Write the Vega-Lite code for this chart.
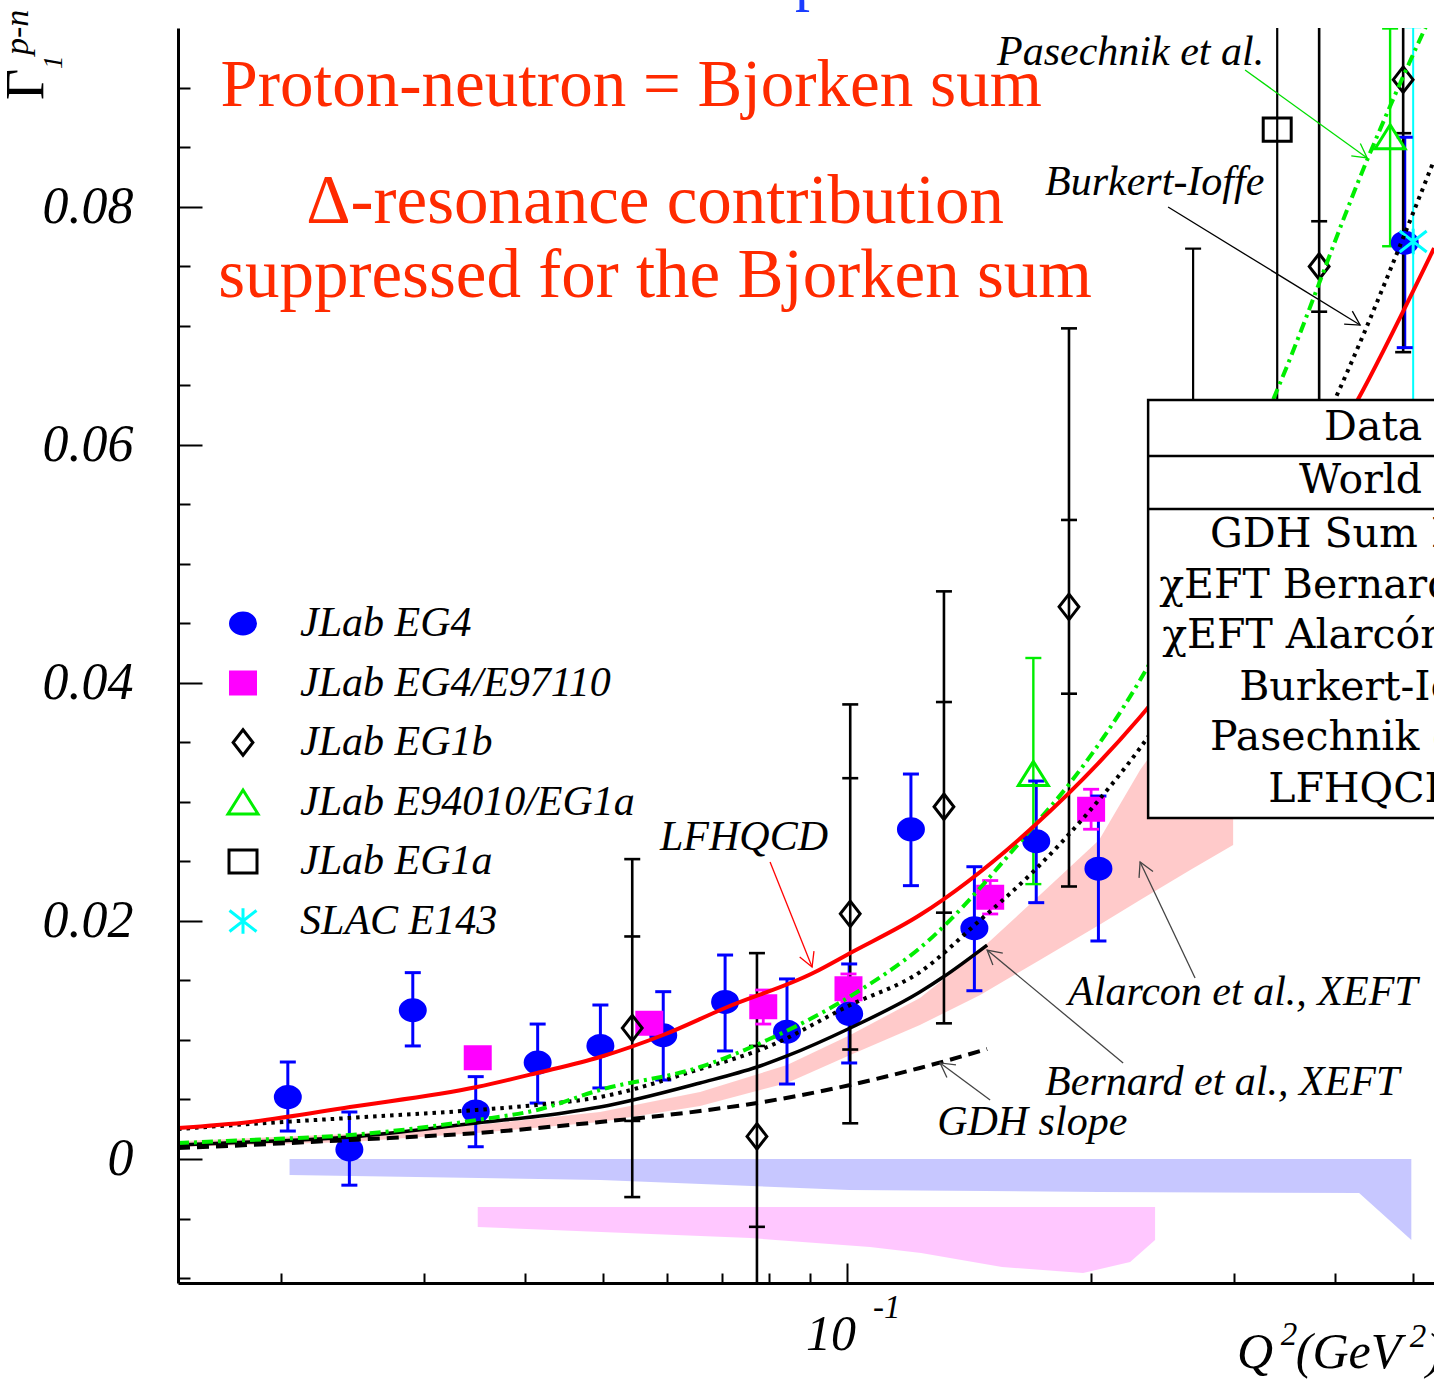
{
  "$schema": "https://vega.github.io/schema/vega-lite/v6.json",
  "width": 1256,
  "height": 1255,
  "autosize": {"type": "none"},
  "padding": {"left": 178, "top": 28, "right": 0, "bottom": 100},
  "background": "white",
  "config": {"view": {"stroke": null}},
  "datasets": {
    "points": [
      {"set": "JLab EG4", "q": 0.0204, "g": 0.0052, "lo": 0.00235, "hi": 0.00815},
      {"set": "JLab EG4", "q": 0.0243, "g": 0.0008, "lo": -0.0022, "hi": 0.00395},
      {"set": "JLab EG4", "q": 0.0291, "g": 0.0125, "lo": 0.0095, "hi": 0.01566},
      {"set": "JLab EG4", "q": 0.0348, "g": 0.0040, "lo": 0.00103, "hi": 0.00692},
      {"set": "JLab EG4", "q": 0.0415, "g": 0.0081, "lo": 0.0047, "hi": 0.01134},
      {"set": "JLab EG4", "q": 0.0496, "g": 0.0095, "lo": 0.00597, "hi": 0.01294},
      {"set": "JLab EG4", "q": 0.0593, "g": 0.0104, "lo": 0.00664, "hi": 0.01406},
      {"set": "JLab EG4", "q": 0.0707, "g": 0.0132, "lo": 0.00908, "hi": 0.01714},
      {"set": "JLab EG4", "q": 0.0843, "g": 0.0107, "lo": 0.0063, "hi": 0.01513},
      {"set": "JLab EG4", "q": 0.1006, "g": 0.0122, "lo": 0.00807, "hi": 0.01639},
      {"set": "JLab EG4", "q": 0.1199, "g": 0.0277, "lo": 0.02297, "hi": 0.03235},
      {"set": "JLab EG4", "q": 0.1436, "g": 0.0194, "lo": 0.01414, "hi": 0.02456},
      {"set": "JLab EG4", "q": 0.1712, "g": 0.0267, "lo": 0.02154, "hi": 0.03176},
      {"set": "JLab EG4", "q": 0.2043, "g": 0.0244, "lo": 0.01832, "hi": 0.0305},
      {"set": "JLab EG4", "q": 0.4880, "g": 0.0770, "lo": 0.06818, "hi": 0.08586},
      {"set": "JLab EG4/E97110", "q": 0.0350, "g": 0.0085, "lo": 0.0078, "hi": 0.0092},
      {"set": "JLab EG4/E97110", "q": 0.0570, "g": 0.0114, "lo": 0.0106, "hi": 0.0122},
      {"set": "JLab EG4/E97110", "q": 0.0788, "g": 0.0128, "lo": 0.01134, "hi": 0.0142},
      {"set": "JLab EG4/E97110", "q": 0.1004, "g": 0.0143, "lo": 0.01319, "hi": 0.01555},
      {"set": "JLab EG4/E97110", "q": 0.1502, "g": 0.0220, "lo": 0.02059, "hi": 0.0234},
      {"set": "JLab EG4/E97110", "q": 0.2001, "g": 0.0294, "lo": 0.02771, "hi": 0.03107},
      {"set": "JLab EG1b", "q": 0.0543, "g": 0.0110, "lo": -0.0032, "hi": 0.0252, "slo": 0.0032, "shi": 0.0187},
      {"set": "JLab EG1b", "q": 0.0774, "g": 0.0019, "lo": -0.0137, "hi": 0.0173, "slo": -0.0057, "shi": 0.0095},
      {"set": "JLab EG1b", "q": 0.1009, "g": 0.0206, "lo": 0.0030, "hi": 0.0382, "slo": 0.0092, "shi": 0.0320},
      {"set": "JLab EG1b", "q": 0.1317, "g": 0.0296, "lo": 0.0114, "hi": 0.0477, "slo": 0.0207, "shi": 0.0384},
      {"set": "JLab EG1b", "q": 0.1879, "g": 0.0464, "lo": 0.0229, "hi": 0.0698, "slo": 0.0391, "shi": 0.0537},
      {"set": "JLab EG1b", "q": 0.3826, "g": 0.0750, "lo": 0.0430, "hi": 0.1070, "slo": 0.0712, "shi": 0.0788},
      {"set": "JLab EG1b", "q": 0.4858, "g": 0.0907, "lo": 0.0678, "hi": 0.1136, "slo": 0.0862, "shi": 0.0990},
      {"set": "JLab E94010/EG1a", "q": 0.1698, "g": 0.0324, "lo": 0.0231, "hi": 0.0421},
      {"set": "JLab E94010/EG1a", "q": 0.4681, "g": 0.0859, "lo": 0.0767, "hi": 0.0950},
      {"set": "JLab EG1a", "q": 0.2674, "g": 0.0580, "lo": 0.0395, "hi": 0.0765},
      {"set": "JLab EG1a", "q": 0.3396, "g": 0.0865, "lo": 0.0480, "hi": 0.1250},
      {"set": "SLAC E143", "q": 0.4998, "g": 0.0771, "lo": 0.0591, "hi": 0.0951}
    ],
    "curves": [
      {"model": "LFHQCD", "q": 0.01493, "g": 0.0026},
      {"model": "LFHQCD", "q": 0.01832, "g": 0.00311},
      {"model": "LFHQCD", "q": 0.02434, "g": 0.00437},
      {"model": "LFHQCD", "q": 0.03492, "g": 0.00605},
      {"model": "LFHQCD", "q": 0.04143, "g": 0.00723},
      {"model": "LFHQCD", "q": 0.04955, "g": 0.00857},
      {"model": "LFHQCD", "q": 0.05927, "g": 0.01042},
      {"model": "LFHQCD", "q": 0.07069, "g": 0.01269},
      {"model": "LFHQCD", "q": 0.09079, "g": 0.01563},
      {"model": "LFHQCD", "q": 0.1009, "g": 0.01731},
      {"model": "LFHQCD", "q": 0.123, "g": 0.0205},
      {"model": "LFHQCD", "q": 0.1696, "g": 0.0279},
      {"model": "LFHQCD", "q": 0.23, "g": 0.03714},
      {"model": "LFHQCD", "q": 0.4335, "g": 0.06462},
      {"model": "LFHQCD", "q": 0.5305, "g": 0.07655},
      {"model": "Pasechnik", "q": 0.01493, "g": 0.00134},
      {"model": "Pasechnik", "q": 0.01832, "g": 0.0016},
      {"model": "Pasechnik", "q": 0.02434, "g": 0.00202},
      {"model": "Pasechnik", "q": 0.03492, "g": 0.00328},
      {"model": "Pasechnik", "q": 0.04143, "g": 0.00412},
      {"model": "Pasechnik", "q": 0.04955, "g": 0.0058},
      {"model": "Pasechnik", "q": 0.06584, "g": 0.00773},
      {"model": "Pasechnik", "q": 0.0797, "g": 0.01},
      {"model": "Pasechnik", "q": 0.1029, "g": 0.01403},
      {"model": "Pasechnik", "q": 0.123, "g": 0.01773},
      {"model": "Pasechnik", "q": 0.1696, "g": 0.0279},
      {"model": "Pasechnik", "q": 0.1885, "g": 0.0316},
      {"model": "Pasechnik", "q": 0.23, "g": 0.04025},
      {"model": "Pasechnik", "q": 0.3424, "g": 0.06521},
      {"model": "Pasechnik", "q": 0.4385, "g": 0.08395},
      {"model": "Pasechnik", "q": 0.5139, "g": 0.09462},
      {"model": "Pasechnik", "q": 0.5303, "g": 0.0966},
      {"model": "Burkert-Ioffe", "q": 0.01493, "g": 0.00252},
      {"model": "Burkert-Ioffe", "q": 0.01832, "g": 0.00294},
      {"model": "Burkert-Ioffe", "q": 0.02434, "g": 0.00345},
      {"model": "Burkert-Ioffe", "q": 0.03492, "g": 0.00412},
      {"model": "Burkert-Ioffe", "q": 0.04143, "g": 0.00454},
      {"model": "Burkert-Ioffe", "q": 0.04955, "g": 0.00521},
      {"model": "Burkert-Ioffe", "q": 0.06584, "g": 0.00756},
      {"model": "Burkert-Ioffe", "q": 0.0797, "g": 0.00941},
      {"model": "Burkert-Ioffe", "q": 0.1009, "g": 0.01294},
      {"model": "Burkert-Ioffe", "q": 0.123, "g": 0.01571},
      {"model": "Burkert-Ioffe", "q": 0.146, "g": 0.02008},
      {"model": "Burkert-Ioffe", "q": 0.1696, "g": 0.02412},
      {"model": "Burkert-Ioffe", "q": 0.2001, "g": 0.0294},
      {"model": "Burkert-Ioffe", "q": 0.23, "g": 0.03454},
      {"model": "Burkert-Ioffe", "q": 0.4061, "g": 0.06479},
      {"model": "Burkert-Ioffe", "q": 0.5305, "g": 0.08395},
      {"model": "Bernard", "q": 0.01493, "g": 0.00118},
      {"model": "Bernard", "q": 0.01832, "g": 0.00143},
      {"model": "Bernard", "q": 0.02434, "g": 0.00185},
      {"model": "Bernard", "q": 0.03492, "g": 0.00303},
      {"model": "Bernard", "q": 0.04461, "g": 0.00387},
      {"model": "Bernard", "q": 0.04955, "g": 0.00437},
      {"model": "Bernard", "q": 0.06584, "g": 0.00639},
      {"model": "Bernard", "q": 0.07741, "g": 0.00773},
      {"model": "Bernard", "q": 0.0843, "g": 0.00866},
      {"model": "Bernard", "q": 0.1009, "g": 0.01101},
      {"model": "Bernard", "q": 0.123, "g": 0.01403},
      {"model": "Bernard", "q": 0.1314, "g": 0.01529},
      {"model": "Bernard", "q": 0.1489, "g": 0.01798},
      {"model": "GDH", "q": 0.01493, "g": 0.00092},
      {"model": "GDH", "q": 0.01832, "g": 0.00118},
      {"model": "GDH", "q": 0.02434, "g": 0.0016},
      {"model": "GDH", "q": 0.03492, "g": 0.00218},
      {"model": "GDH", "q": 0.04955, "g": 0.00311},
      {"model": "GDH", "q": 0.06584, "g": 0.00403},
      {"model": "GDH", "q": 0.07741, "g": 0.00471},
      {"model": "GDH", "q": 0.1009, "g": 0.00622},
      {"model": "GDH", "q": 0.123, "g": 0.00765},
      {"model": "GDH", "q": 0.1489, "g": 0.00924}
    ],
    "bands": [
      {"band": "EG4 sys", "q": 0.0205, "lo": -0.00134, "hi": 0},
      {"band": "EG4 sys", "q": 0.0496, "lo": -0.00176, "hi": 0},
      {"band": "EG4 sys", "q": 0.1006, "lo": -0.0026, "hi": 0},
      {"band": "EG4 sys", "q": 0.2047, "lo": -0.00277, "hi": 0},
      {"band": "EG4 sys", "q": 0.4286, "lo": -0.00286, "hi": 0},
      {"band": "EG4 sys", "q": 0.4972, "lo": -0.0068, "hi": 0},
      {"band": "EG4/E97110 sys", "q": 0.035, "lo": -0.00571, "hi": -0.00403},
      {"band": "EG4/E97110 sys", "q": 0.0759, "lo": -0.00664, "hi": -0.00403},
      {"band": "EG4/E97110 sys", "q": 0.1067, "lo": -0.0074, "hi": -0.00403},
      {"band": "EG4/E97110 sys", "q": 0.1234, "lo": -0.0079, "hi": -0.00403},
      {"band": "EG4/E97110 sys", "q": 0.1553, "lo": -0.00908, "hi": -0.00403},
      {"band": "EG4/E97110 sys", "q": 0.1956, "lo": -0.00958, "hi": -0.00403},
      {"band": "EG4/E97110 sys", "q": 0.2236, "lo": -0.00866, "hi": -0.00403},
      {"band": "EG4/E97110 sys", "q": 0.24, "lo": -0.0068, "hi": -0.00403},
      {"band": "Alarcon", "q": 0.01493, "lo": 0.0010, "hi": 0.0015},
      {"band": "Alarcon", "q": 0.02434, "lo": 0.00143, "hi": 0.0021},
      {"band": "Alarcon", "q": 0.03492, "lo": 0.00218, "hi": 0.00286},
      {"band": "Alarcon", "q": 0.04955, "lo": 0.00311, "hi": 0.00395},
      {"band": "Alarcon", "q": 0.06584, "lo": 0.00445, "hi": 0.00563},
      {"band": "Alarcon", "q": 0.0843, "lo": 0.00639, "hi": 0.0079},
      {"band": "Alarcon", "q": 0.1009, "lo": 0.00874, "hi": 0.01042},
      {"band": "Alarcon", "q": 0.123, "lo": 0.01126, "hi": 0.01353},
      {"band": "Alarcon", "q": 0.146, "lo": 0.01378, "hi": 0.01756},
      {"band": "Alarcon", "q": 0.173, "lo": 0.01672, "hi": 0.02218},
      {"band": "Alarcon", "q": 0.2047, "lo": 0.01966, "hi": 0.02681},
      {"band": "Alarcon", "q": 0.23, "lo": 0.02176, "hi": 0.03269},
      {"band": "Alarcon", "q": 0.2652, "lo": 0.02429, "hi": 0.0386},
      {"band": "Alarcon", "q": 0.2996, "lo": 0.02639, "hi": 0.045}
    ],
    "legendRows": [
      {"set": "JLab EG4", "g": 0.045},
      {"set": "JLab EG4/E97110", "g": 0.040},
      {"set": "JLab EG1b", "g": 0.035},
      {"set": "JLab E94010/EG1a", "g": 0.030},
      {"set": "JLab EG1a", "g": 0.025},
      {"set": "SLAC E143", "g": 0.020}
    ],
    "notes": [
      {"text": "LFHQCD", "q": 0.05876, "g": 0.02597},
      {"text": "Pasechnik et al.", "q": 0.15316, "g": 0.09193},
      {"text": "Burkert-Ioffe", "q": 0.17556, "g": 0.08101},
      {"text": "Alarcon et al., XEFT", "q": 0.18743, "g": 0.01294},
      {"text": "Bernard et al., XEFT", "q": 0.17556, "g": 0.00538},
      {"text": "GDH slope", "q": 0.12917, "g": 0.00202}
    ],
    "arrows": [
      {"note": "LFHQCD", "q": 0.08034, "g": 0.02496, "q2": 0.09053, "g2": 0.01613, "dir": 158},
      {"note": "Pasechnik", "q": 0.30993, "g": 0.09151, "q2": 0.43853, "g2": 0.08412, "dir": 126},
      {"note": "Burkert-Ioffe", "q": 0.24905, "g": 0.08, "q2": 0.42984, "g2": 0.07008, "dir": 122},
      {"note": "Alarcon", "q": 0.26889, "g": 0.01521, "q2": 0.23, "g2": 0.02496, "dir": 335},
      {"note": "Bernard", "q": 0.21917, "g": 0.00807, "q2": 0.14889, "g2": 0.01756, "dir": 310},
      {"note": "GDH", "q": 0.15017, "g": 0.00496, "q2": 0.13027, "g2": 0.00807, "dir": 306}
    ],
    "headlineTop": [
      {"text": "Proton-neutron = Bjorken sum", "q": 0.05413, "g": 0.08849}
    ],
    "headline": [
      {"text": "Δ-resonance contribution", "q": 0.05794, "g": 0.07866},
      {"text": "suppressed for the Bjorken sum", "q": 0.05794, "g": 0.07244}
    ],
    "tableRows": [
      {"text": "Data", "q": 0.3880, "g": 0.06042},
      {"text": "World data", "q": 0.3614, "g": 0.05597},
      {"text": "GDH Sum Rule", "q": 0.2806, "g": 0.05143},
      {"text": "χEFT Bernard et al.", "q": 0.2428, "g": 0.04714},
      {"text": "χEFT Alarcón et al.", "q": 0.2449, "g": 0.04294},
      {"text": "Burkert-Ioffe", "q": 0.3048, "g": 0.03857},
      {"text": "Pasechnik et al.", "q": 0.2806, "g": 0.03437},
      {"text": "LFHQCD", "q": 0.3310, "g": 0.03}
    ],
    "tableBox": [
      {"q": 0.2353, "q2": 0.7, "g": 0.02866, "g2": 0.06378}
    ],
    "tableLines": [
      {"q": 0.2353, "q2": 0.7, "g": 0.05908},
      {"q": 0.2353, "q2": 0.7, "g": 0.05462}
    ]
  },
  "layer": [
    {
      "data": {"name": "bands"},
      "transform": [{"filter": "datum.band == 'EG4 sys'"}],
      "mark": {"type": "area", "fill": "#0000ff", "fillOpacity": 0.22, "clip": true},
      "encoding": {
        "x": {
          "field": "q", "type": "quantitative",
          "scale": {"type": "log", "domain": [0.01493, 0.5303], "nice": false},
          "axis": {
            "values": [0.02, 0.03, 0.04, 0.05, 0.06, 0.07, 0.08, 0.09, 0.1, 0.2, 0.3, 0.4, 0.5],
            "labels": false, "title": null, "grid": false, "zindex": 2,
            "domain": true, "domainWidth": 3, "domainColor": "#000000",
            "tickSize": -10, "tickWidth": 2, "tickColor": "#000000",
            "encoding": {"ticks": {"y2": {"condition": {"test": "abs(datum.value - 0.1) < 1e-9", "value": -20}, "value": -10}}}
          }
        },
        "y": {
          "field": "hi", "type": "quantitative",
          "scale": {"domain": [-0.01042, 0.09504], "nice": false, "zero": false},
          "axis": {
            "values": [-0.01, -0.005, 0, 0.005, 0.01, 0.015, 0.02, 0.025, 0.03, 0.035, 0.04, 0.045, 0.05, 0.055, 0.06, 0.065, 0.07, 0.075, 0.08, 0.085, 0.09],
            "title": null, "grid": false, "zindex": 2,
            "domain": true, "domainWidth": 3, "domainColor": "#000000",
            "tickSize": -12, "tickWidth": 2, "tickColor": "#000000",
            "labelFont": "Liberation Serif", "labelFontStyle": "italic", "labelFontSize": 52, "labelColor": "#000000",
            "labelPadding": 57, "labelOverlap": false, "labelBound": false, "labelFlush": false,
            "labelExpr": "abs(datum.value*50 - round(datum.value*50)) < 0.001 ? (abs(datum.value) < 1e-9 ? '0' : format(datum.value, '.2f')) : ''",
            "encoding": {"ticks": {"x2": {"condition": {"test": "abs(datum.value*50 - round(datum.value*50)) < 0.001", "value": 24}, "value": 12}}}
          }
        },
        "y2": {"field": "lo"}
      }
    },
    {
      "data": {"name": "bands"},
      "transform": [{"filter": "datum.band == 'EG4/E97110 sys'"}],
      "mark": {"type": "area", "fill": "#ff00ff", "fillOpacity": 0.22, "clip": true},
      "encoding": {
        "x": {"field": "q", "type": "quantitative", "scale": {"type": "log", "domain": [0.01493, 0.5303], "nice": false}},
        "y": {"field": "hi", "type": "quantitative", "scale": {"domain": [-0.01042, 0.09504], "nice": false, "zero": false}},
        "y2": {"field": "lo"}
      }
    },
    {
      "data": {"name": "bands"},
      "transform": [{"filter": "datum.band == 'Alarcon'"}],
      "mark": {"type": "area", "fill": "#ff2020", "fillOpacity": 0.24, "clip": true},
      "encoding": {
        "x": {"field": "q", "type": "quantitative", "scale": {"type": "log", "domain": [0.01493, 0.5303], "nice": false}},
        "y": {"field": "hi", "type": "quantitative", "scale": {"domain": [-0.01042, 0.09504], "nice": false, "zero": false}},
        "y2": {"field": "lo"}
      }
    },
    {
      "data": {"name": "points"},
      "mark": {"type": "rule", "clip": true},
      "encoding": {
        "x": {"field": "q", "type": "quantitative", "scale": {"type": "log", "domain": [0.01493, 0.5303], "nice": false}},
        "y": {"field": "lo", "type": "quantitative", "scale": {"domain": [-0.01042, 0.09504], "nice": false, "zero": false}},
        "y2": {"field": "hi"},
        "stroke": {"field": "set", "type": "nominal", "legend": null,
          "scale": {"domain": ["JLab EG4", "JLab EG4/E97110", "JLab EG1b", "JLab E94010/EG1a", "JLab EG1a", "SLAC E143"],
                    "range": ["#0000ff", "#ff00ff", "#000000", "#00ee00", "#000000", "#00ffff"]}},
        "strokeWidth": {"field": "set", "type": "nominal", "legend": null,
          "scale": {"domain": ["JLab EG4", "JLab EG4/E97110", "JLab EG1b", "JLab E94010/EG1a", "JLab EG1a", "SLAC E143"],
                    "range": [3, 2, 3, 2, 2.5, 2]}}
      }
    },
    {
      "data": {"name": "points"},
      "transform": [{"fold": ["lo", "hi", "slo", "shi"], "as": ["end", "val"]}],
      "mark": {"type": "point", "shape": "M-1,0L1,0", "size": 256, "filled": false, "clip": true, "opacity": 1},
      "encoding": {
        "x": {"field": "q", "type": "quantitative", "scale": {"type": "log", "domain": [0.01493, 0.5303], "nice": false}},
        "y": {"field": "val", "type": "quantitative", "scale": {"domain": [-0.01042, 0.09504], "nice": false, "zero": false}},
        "stroke": {"field": "set", "type": "nominal", "legend": null},
        "strokeWidth": {"field": "set", "type": "nominal", "legend": null}
      }
    },
    {
      "data": {"name": "points"},
      "mark": {"type": "point", "filled": true, "size": 900, "strokeWidth": 3, "opacity": 1, "clip": true},
      "encoding": {
        "x": {"field": "q", "type": "quantitative", "scale": {"type": "log", "domain": [0.01493, 0.5303], "nice": false}},
        "y": {"field": "g", "type": "quantitative", "scale": {"domain": [-0.01042, 0.09504], "nice": false, "zero": false}},
        "shape": {"field": "set", "type": "nominal", "legend": null,
          "scale": {"domain": ["JLab EG4", "JLab EG4/E97110", "JLab EG1b", "JLab E94010/EG1a", "JLab EG1a", "SLAC E143"],
                    "range": [
                      "M-0.833,0C-0.833,-0.387,-0.46,-0.7,0,-0.7C0.46,-0.7,0.833,-0.387,0.833,0C0.833,0.387,0.46,0.7,0,0.7C-0.46,0.7,-0.833,0.387,-0.833,0Z",
                      "M-0.833,-0.733L0.833,-0.733L0.833,0.733L-0.833,0.733Z",
                      "M0,-0.85L0.66,0L0,0.85L-0.66,0Z",
                      "M0,-0.8L1,0.8L-1,0.8Z",
                      "M-0.933,-0.767L0.933,-0.767L0.933,0.767L-0.933,0.767Z",
                      "M0,-0.85L0,0.85M-0.9,-0.7L0.9,0.7M-0.9,0.7L0.9,-0.7"
                    ]}},
        "fill": {"field": "set", "type": "nominal", "legend": null,
          "scale": {"domain": ["JLab EG4", "JLab EG4/E97110", "JLab EG1b", "JLab E94010/EG1a", "JLab EG1a", "SLAC E143"],
                    "range": ["#0000ff", "#ff00ff", "transparent", "transparent", "transparent", "transparent"]}},
        "stroke": {"field": "set", "type": "nominal", "legend": null}
      }
    },
    {
      "data": {"name": "curves"},
      "transform": [{"filter": "datum.model == 'GDH'"}],
      "mark": {"type": "line", "stroke": "#000000", "strokeWidth": 4, "strokeDash": [12, 7], "interpolate": "monotone", "clip": true},
      "encoding": {
        "x": {"field": "q", "type": "quantitative", "scale": {"type": "log", "domain": [0.01493, 0.5303], "nice": false}},
        "y": {"field": "g", "type": "quantitative", "scale": {"domain": [-0.01042, 0.09504], "nice": false, "zero": false}}
      }
    },
    {
      "data": {"name": "curves"},
      "transform": [{"filter": "datum.model == 'Bernard'"}],
      "mark": {"type": "line", "stroke": "#000000", "strokeWidth": 3.5, "interpolate": "monotone", "clip": true},
      "encoding": {
        "x": {"field": "q", "type": "quantitative", "scale": {"type": "log", "domain": [0.01493, 0.5303], "nice": false}},
        "y": {"field": "g", "type": "quantitative", "scale": {"domain": [-0.01042, 0.09504], "nice": false, "zero": false}}
      }
    },
    {
      "data": {"name": "curves"},
      "transform": [{"filter": "datum.model == 'Burkert-Ioffe'"}],
      "mark": {"type": "line", "stroke": "#000000", "strokeWidth": 4, "strokeDash": [3.5, 5], "interpolate": "monotone", "clip": true},
      "encoding": {
        "x": {"field": "q", "type": "quantitative", "scale": {"type": "log", "domain": [0.01493, 0.5303], "nice": false}},
        "y": {"field": "g", "type": "quantitative", "scale": {"domain": [-0.01042, 0.09504], "nice": false, "zero": false}}
      }
    },
    {
      "data": {"name": "curves"},
      "transform": [{"filter": "datum.model == 'Pasechnik'"}],
      "mark": {"type": "line", "stroke": "#00ee00", "strokeWidth": 4, "strokeDash": [11, 5, 3, 5], "interpolate": "monotone", "clip": true},
      "encoding": {
        "x": {"field": "q", "type": "quantitative", "scale": {"type": "log", "domain": [0.01493, 0.5303], "nice": false}},
        "y": {"field": "g", "type": "quantitative", "scale": {"domain": [-0.01042, 0.09504], "nice": false, "zero": false}}
      }
    },
    {
      "data": {"name": "curves"},
      "transform": [{"filter": "datum.model == 'LFHQCD'"}],
      "mark": {"type": "line", "stroke": "#ff0000", "strokeWidth": 4, "interpolate": "monotone", "clip": true},
      "encoding": {
        "x": {"field": "q", "type": "quantitative", "scale": {"type": "log", "domain": [0.01493, 0.5303], "nice": false}},
        "y": {"field": "g", "type": "quantitative", "scale": {"domain": [-0.01042, 0.09504], "nice": false, "zero": false}}
      }
    },
    {
      "mark": {"type": "rule", "stroke": "#000000", "strokeWidth": 3},
      "encoding": {
        "y": {"datum": 0, "type": "quantitative", "scale": {"domain": [-0.01042, 0.09504], "nice": false, "zero": false}}
      }
    },
    {
      "mark": {"type": "rule", "stroke": "#000000", "strokeWidth": 3},
      "encoding": {
        "y": {"datum": 0.09504, "type": "quantitative", "scale": {"domain": [-0.01042, 0.09504], "nice": false, "zero": false}}
      }
    },
    {
      "data": {"name": "tableBox"},
      "mark": {"type": "rect", "fill": "#ffffff", "stroke": "#000000", "strokeWidth": 2.5, "clip": true},
      "encoding": {
        "x": {"field": "q", "type": "quantitative", "scale": {"type": "log", "domain": [0.01493, 0.5303], "nice": false}},
        "x2": {"field": "q2"},
        "y": {"field": "g", "type": "quantitative", "scale": {"domain": [-0.01042, 0.09504], "nice": false, "zero": false}},
        "y2": {"field": "g2"}
      }
    },
    {
      "data": {"name": "tableLines"},
      "mark": {"type": "rule", "stroke": "#000000", "strokeWidth": 2.5, "clip": true},
      "encoding": {
        "x": {"field": "q", "type": "quantitative", "scale": {"type": "log", "domain": [0.01493, 0.5303], "nice": false}},
        "x2": {"field": "q2"},
        "y": {"field": "g", "type": "quantitative", "scale": {"domain": [-0.01042, 0.09504], "nice": false, "zero": false}}
      }
    },
    {
      "data": {"name": "tableRows"},
      "mark": {"type": "text", "font": "DejaVu Serif", "fontSize": 41, "align": "left", "baseline": "alphabetic", "fill": "#000000"},
      "encoding": {
        "x": {"field": "q", "type": "quantitative", "scale": {"type": "log", "domain": [0.01493, 0.5303], "nice": false}},
        "y": {"field": "g", "type": "quantitative", "scale": {"domain": [-0.01042, 0.09504], "nice": false, "zero": false}},
        "text": {"field": "text"}
      }
    },
    {
      "data": {"name": "arrows"},
      "mark": {"type": "rule", "strokeWidth": 1.3},
      "encoding": {
        "x": {"field": "q", "type": "quantitative", "scale": {"type": "log", "domain": [0.01493, 0.5303], "nice": false}},
        "x2": {"field": "q2"},
        "y": {"field": "g", "type": "quantitative", "scale": {"domain": [-0.01042, 0.09504], "nice": false, "zero": false}},
        "y2": {"field": "g2"},
        "color": {"field": "note", "type": "nominal", "legend": null,
          "scale": {"domain": ["LFHQCD", "Pasechnik", "Burkert-Ioffe", "Alarcon", "Bernard", "GDH"],
                    "range": ["#ff0000", "#00dd00", "#000000", "#444444", "#444444", "#444444"]}}
      }
    },
    {
      "data": {"name": "arrows"},
      "mark": {"type": "point", "shape": "M-0.55,1L0,0L0.55,1", "size": 784, "filled": false, "strokeWidth": 1.3, "opacity": 1},
      "encoding": {
        "x": {"field": "q2", "type": "quantitative", "scale": {"type": "log", "domain": [0.01493, 0.5303], "nice": false}},
        "y": {"field": "g2", "type": "quantitative", "scale": {"domain": [-0.01042, 0.09504], "nice": false, "zero": false}},
        "angle": {"field": "dir", "type": "quantitative", "scale": null},
        "color": {"field": "note", "type": "nominal", "legend": null}
      }
    },
    {
      "data": {"name": "notes"},
      "mark": {"type": "text", "font": "Liberation Serif", "fontStyle": "italic", "fontSize": 42, "align": "left", "baseline": "alphabetic", "fill": "#000000"},
      "encoding": {
        "x": {"field": "q", "type": "quantitative", "scale": {"type": "log", "domain": [0.01493, 0.5303], "nice": false}},
        "y": {"field": "g", "type": "quantitative", "scale": {"domain": [-0.01042, 0.09504], "nice": false, "zero": false}},
        "text": {"field": "text"}
      }
    },
    {
      "data": {"name": "headlineTop"},
      "mark": {"type": "text", "font": "Liberation Serif", "fontSize": 67, "align": "center", "baseline": "alphabetic", "fill": "#ff2a00"},
      "encoding": {
        "x": {"field": "q", "type": "quantitative", "scale": {"type": "log", "domain": [0.01493, 0.5303], "nice": false}},
        "y": {"field": "g", "type": "quantitative", "scale": {"domain": [-0.01042, 0.09504], "nice": false, "zero": false}},
        "text": {"field": "text"}
      }
    },
    {
      "data": {"name": "headline"},
      "mark": {"type": "text", "font": "Liberation Serif", "fontSize": 69, "align": "center", "baseline": "alphabetic", "fill": "#ff2a00"},
      "encoding": {
        "x": {"field": "q", "type": "quantitative", "scale": {"type": "log", "domain": [0.01493, 0.5303], "nice": false}},
        "y": {"field": "g", "type": "quantitative", "scale": {"domain": [-0.01042, 0.09504], "nice": false, "zero": false}},
        "text": {"field": "text"}
      }
    },
    {
      "data": {"name": "legendRows"},
      "mark": {"type": "point", "filled": true, "size": 900, "strokeWidth": 3, "opacity": 1},
      "encoding": {
        "x": {"datum": 0.01796, "type": "quantitative", "scale": {"type": "log", "domain": [0.01493, 0.5303], "nice": false}},
        "y": {"field": "g", "type": "quantitative", "scale": {"domain": [-0.01042, 0.09504], "nice": false, "zero": false}},
        "shape": {"field": "set", "type": "nominal", "legend": null},
        "fill": {"field": "set", "type": "nominal", "legend": null},
        "stroke": {"field": "set", "type": "nominal", "legend": null}
      }
    },
    {
      "data": {"name": "legendRows"},
      "mark": {"type": "text", "font": "Liberation Serif", "fontStyle": "italic", "fontSize": 42, "align": "left", "baseline": "middle", "fill": "#000000"},
      "encoding": {
        "x": {"datum": 0.02112, "type": "quantitative", "scale": {"type": "log", "domain": [0.01493, 0.5303], "nice": false}},
        "y": {"field": "g", "type": "quantitative", "scale": {"domain": [-0.01042, 0.09504], "nice": false, "zero": false}},
        "text": {"field": "set"}
      }
    },
    {
      "data": {"values": [{"text": "Γ", "q": 0.010171, "g": 0.08899}]},
      "mark": {"type": "text", "font": "Liberation Serif", "fontSize": 54, "angle": 270, "align": "left", "baseline": "alphabetic", "fill": "#000000"},
      "encoding": {
        "x": {"field": "q", "type": "quantitative", "scale": {"type": "log", "domain": [0.01493, 0.5303], "nice": false}},
        "y": {"field": "g", "type": "quantitative", "scale": {"domain": [-0.01042, 0.09504], "nice": false, "zero": false}},
        "text": {"field": "text"}
      }
    },
    {
      "data": {"values": [{"text": "1", "q": 0.010737, "g": 0.0916}]},
      "mark": {"type": "text", "font": "Liberation Serif", "fontStyle": "italic", "fontSize": 27, "angle": 270, "align": "left", "baseline": "alphabetic", "fill": "#000000"},
      "encoding": {
        "x": {"field": "q", "type": "quantitative", "scale": {"type": "log", "domain": [0.01493, 0.5303], "nice": false}},
        "y": {"field": "g", "type": "quantitative", "scale": {"domain": [-0.01042, 0.09504], "nice": false, "zero": false}},
        "text": {"field": "text"}
      }
    },
    {
      "data": {"values": [{"text": "p-n", "q": 0.009748, "g": 0.09277}]},
      "mark": {"type": "text", "font": "Liberation Serif", "fontStyle": "italic", "fontSize": 34, "angle": 270, "align": "left", "baseline": "alphabetic", "fill": "#000000"},
      "encoding": {
        "x": {"field": "q", "type": "quantitative", "scale": {"type": "log", "domain": [0.01493, 0.5303], "nice": false}},
        "y": {"field": "g", "type": "quantitative", "scale": {"domain": [-0.01042, 0.09504], "nice": false, "zero": false}},
        "text": {"field": "text"}
      }
    },
    {
      "data": {"values": [
        {"text": "Q", "q": 0.3030, "g": -0.01756},
        {"text": "(GeV", "q": 0.3580, "g": -0.01756},
        {"text": ")", "q": 0.5186, "g": -0.01756},
        {"text": "10", "q": 0.0890, "g": -0.01605}
      ]},
      "mark": {"type": "text", "font": "Liberation Serif", "fontStyle": "italic", "fontSize": 50, "align": "left", "baseline": "alphabetic", "fill": "#000000"},
      "encoding": {
        "x": {"field": "q", "type": "quantitative", "scale": {"type": "log", "domain": [0.01493, 0.5303], "nice": false}},
        "y": {"field": "g", "type": "quantitative", "scale": {"domain": [-0.01042, 0.09504], "nice": false, "zero": false}},
        "text": {"field": "text"}
      }
    },
    {
      "data": {"values": [
        {"text": "2", "q": 0.3430, "g": -0.01563},
        {"text": "2", "q": 0.4950, "g": -0.0158},
        {"text": "-1", "q": 0.10768, "g": -0.01336}
      ]},
      "mark": {"type": "text", "font": "Liberation Serif", "fontStyle": "italic", "fontSize": 33, "align": "left", "baseline": "alphabetic", "fill": "#000000"},
      "encoding": {
        "x": {"field": "q", "type": "quantitative", "scale": {"type": "log", "domain": [0.01493, 0.5303], "nice": false}},
        "y": {"field": "g", "type": "quantitative", "scale": {"domain": [-0.01042, 0.09504], "nice": false, "zero": false}},
        "text": {"field": "text"}
      }
    },
    {
      "data": {"values": [{"text": "p", "q": 0.08627, "g": 0.09748}]},
      "mark": {"type": "text", "font": "Liberation Serif", "fontSize": 60, "align": "left", "baseline": "alphabetic", "fill": "#1a3cff"},
      "encoding": {
        "x": {"field": "q", "type": "quantitative", "scale": {"type": "log", "domain": [0.01493, 0.5303], "nice": false}},
        "y": {"field": "g", "type": "quantitative", "scale": {"domain": [-0.01042, 0.09504], "nice": false, "zero": false}},
        "text": {"field": "text"}
      }
    }
  ]
}
